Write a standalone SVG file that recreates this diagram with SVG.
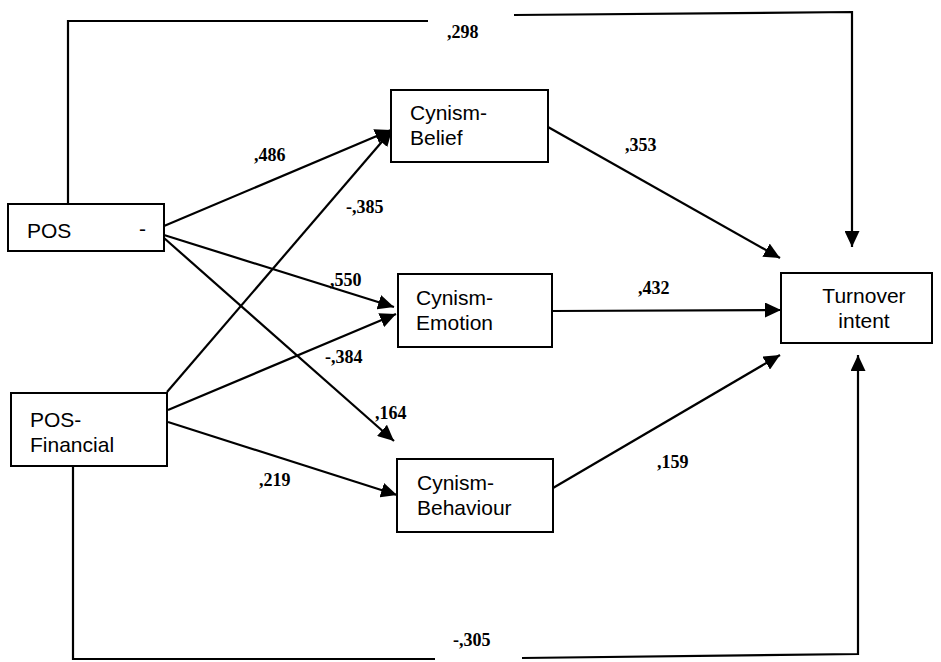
<svg xmlns="http://www.w3.org/2000/svg" width="941" height="662" viewBox="0 0 941 662">
<style>
.box{fill:#fff;stroke:#000;stroke-width:2}
.nt{font-family:"Liberation Sans",Arial,sans-serif;font-size:21px;fill:#000}
.lbl{font-family:"Liberation Serif","Times New Roman",serif;font-size:18px;font-weight:bold;fill:#000}
.c{fill:none;stroke:#000;stroke-width:2.2}
</style>
<defs>
<marker id="ah" markerUnits="userSpaceOnUse" markerWidth="17" markerHeight="15" refX="16" refY="7.5" orient="auto">
<path d="M0,0 L16,7.5 L0,15 z" fill="#000"/>
</marker>
</defs>
<rect width="941" height="662" fill="#fff"/>
<g id="connectors">
<path class="c" d="M68,204 V21 H428 M514,15 L852,12 V247" marker-end="url(#ah)"/>
<path class="c" d="M73,466 V659 H435 M522,658 L858,654 V355" marker-end="url(#ah)"/>
<line class="c" x1="164" y1="226" x2="391" y2="130" marker-end="url(#ah)"/>
<line class="c" x1="164" y1="235" x2="394" y2="307" marker-end="url(#ah)"/>
<line class="c" x1="164" y1="238" x2="394" y2="441" marker-end="url(#ah)"/>
<line class="c" x1="167" y1="392" x2="392" y2="130" marker-end="url(#ah)"/>
<line class="c" x1="168" y1="410" x2="396" y2="314" marker-end="url(#ah)"/>
<line class="c" x1="168" y1="422" x2="397" y2="495" marker-end="url(#ah)"/>
<line class="c" x1="548" y1="127" x2="780" y2="258" marker-end="url(#ah)"/>
<line class="c" x1="552" y1="311" x2="781" y2="310" marker-end="url(#ah)"/>
<line class="c" x1="553" y1="488" x2="780" y2="355" marker-end="url(#ah)"/>
</g>
<g id="labels">
<text class="lbl" x="447" y="38">,298</text>
<text class="lbl" x="254" y="161">,486</text>
<text class="lbl" x="346" y="213">-,385</text>
<text class="lbl" x="330" y="286">,550</text>
<text class="lbl" x="625" y="151">,353</text>
<text class="lbl" x="638" y="294">,432</text>
<text class="lbl" x="325" y="363">-,384</text>
<text class="lbl" x="375" y="419">,164</text>
<text class="lbl" x="259" y="486">,219</text>
<text class="lbl" x="657" y="468">,159</text>
<text class="lbl" x="453" y="646">-,305</text>
</g>
<g id="pos">
<rect class="box" x="8" y="204" width="156" height="47"/>
<text class="nt" x="27" y="238">POS</text>
<text class="nt" x="139" y="236">-</text>
</g>
<g id="pos-financial">
<rect class="box" x="11" y="393" width="156" height="73"/>
<text class="nt" x="30" y="427">POS-</text>
<text class="nt" x="30" y="452">Financial</text>
</g>
<g id="cynism-belief">
<rect class="box" x="391" y="90" width="157" height="72"/>
<text class="nt" x="410" y="120">Cynism-</text>
<text class="nt" x="410" y="145">Belief</text>
</g>
<g id="cynism-emotion">
<rect class="box" x="398" y="274" width="154" height="73"/>
<text class="nt" x="416" y="305">Cynism-</text>
<text class="nt" x="416" y="330">Emotion</text>
</g>
<g id="cynism-behaviour">
<rect class="box" x="397" y="459" width="156" height="73"/>
<text class="nt" x="417" y="490">Cynism-</text>
<text class="nt" x="417" y="515">Behaviour</text>
</g>
<g id="turnover-intent">
<rect class="box" x="781" y="273" width="151" height="70"/>
<text class="nt" x="864" y="303" text-anchor="middle">Turnover</text>
<text class="nt" x="864" y="328" text-anchor="middle">intent</text>
</g>
</svg>
